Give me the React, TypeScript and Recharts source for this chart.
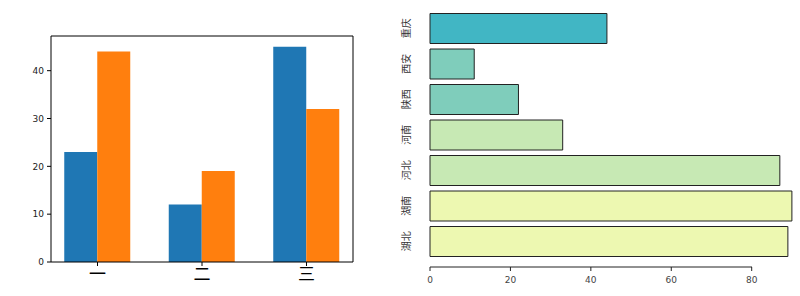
import React from "react";
import { BarChart, Bar, XAxis, YAxis, Cell } from "recharts";

// left chart
const categories = ["一", "二", "三"];
const blueValues = [23, 12, 45];
const orangeValues = [44, 19, 32];
const leftTicks = [0, 10, 20, 30, 40];

// right chart
const cities = ["重庆", "西安", "陕西", "河南", "河北", "湖南", "湖北"];
const cityValues = [44, 11, 22, 33, 87, 90, 89];
const cityColors = ["#41b6c4", "#7fcdbb", "#7fcdbb", "#c7e9b4", "#c7e9b4", "#edf8b1", "#edf8b1"];
const rightTicks = [0, 20, 40, 60, 80];

const leftData = categories.map((name, i) => ({ idx: i, name, a: blueValues[i], b: orangeValues[i] }));
const rightData = cities.map((city, i) => ({ city, value: cityValues[i] }));

const latin = "'DejaVu Sans', sans-serif";
const cjk = "'Noto Sans CJK SC', sans-serif";

const CityTick = (props: any) => {
  const { x, y, payload } = props;
  const tx = x - 25;
  return (
    <text
      x={tx}
      y={y}
      transform={`rotate(-90 ${tx} ${y})`}
      textAnchor="middle"
      dominantBaseline="central"
      fontSize={10}
      fill="#333"
      fontFamily={cjk}
    >
      {payload.value}
    </text>
  );
};

export default function App() {
  return (
    <div style={{ position: "absolute", left: 0, top: 0, width: 800, height: 296, overflow: "hidden", background: "#fff" }}>
      <div style={{ position: "absolute", left: 0, top: 0 }}>
        <BarChart width={400} height={296} data={leftData} barGap={0} margin={{ top: 35, right: 46, left: 21, bottom: 0 }}>
          <XAxis
            dataKey="idx"
            type="number"
            domain={[-0.445, 2.445]}
            ticks={[0, 1, 2]}
            tickFormatter={(i: number) => categories[i]}
            height={34}
            stroke="#000"
            tickSize={4}
            tickMargin={2}
            tick={{ fontSize: 17, fill: "#000", fontFamily: cjk }}
          />
          <XAxis xAxisId="top" orientation="top" dataKey="idx" type="number" domain={[-0.445, 2.445]} height={1} tick={false} tickLine={false} stroke="#000" />
          <YAxis
            domain={[0, 47.25]}
            ticks={leftTicks}
            width={30}
            stroke="#000"
            tickSize={4}
            tickMargin={3}
            tick={{ fontSize: 9, fill: "#222", fontFamily: latin }}
          />
          <YAxis yAxisId="right" orientation="right" domain={[0, 47.25]} width={1} tick={false} tickLine={false} stroke="#000" />
          <Bar dataKey="a" fill="#1f77b4" barSize={33} isAnimationActive={false} />
          <Bar dataKey="b" fill="#ff7f0e" barSize={33} isAnimationActive={false} />
        </BarChart>
      </div>
      <div style={{ position: "absolute", left: 390, top: 0 }}>
        <BarChart width={420} height={296} data={rightData} layout="vertical" margin={{ top: 10.5, right: 0, left: 10, bottom: 0 }}>
          <XAxis
            type="number"
            domain={[0, 94.5]}
            ticks={rightTicks}
            height={29}
            axisLine={{ stroke: "#222", strokeDasharray: "322 1000" }}
            tickLine={{ stroke: "#222" }}
            tickSize={4}
            tickMargin={6}
            tick={{ fontSize: 9, fill: "#444", fontFamily: latin }}
          />
          <YAxis
            type="category"
            dataKey="city"
            width={30}
            axisLine={false}
            tickLine={false}
            tickSize={0}
            tickMargin={0}
            padding={{ top: 0, bottom: 8 }}
            tick={<CityTick />}
          />
          <Bar dataKey="value" barSize={30} stroke="#222" strokeWidth={1} isAnimationActive={false}>
            {rightData.map((d, i) => (
              <Cell key={d.city} fill={cityColors[i]} />
            ))}
          </Bar>
        </BarChart>
      </div>
    </div>
  );
}
